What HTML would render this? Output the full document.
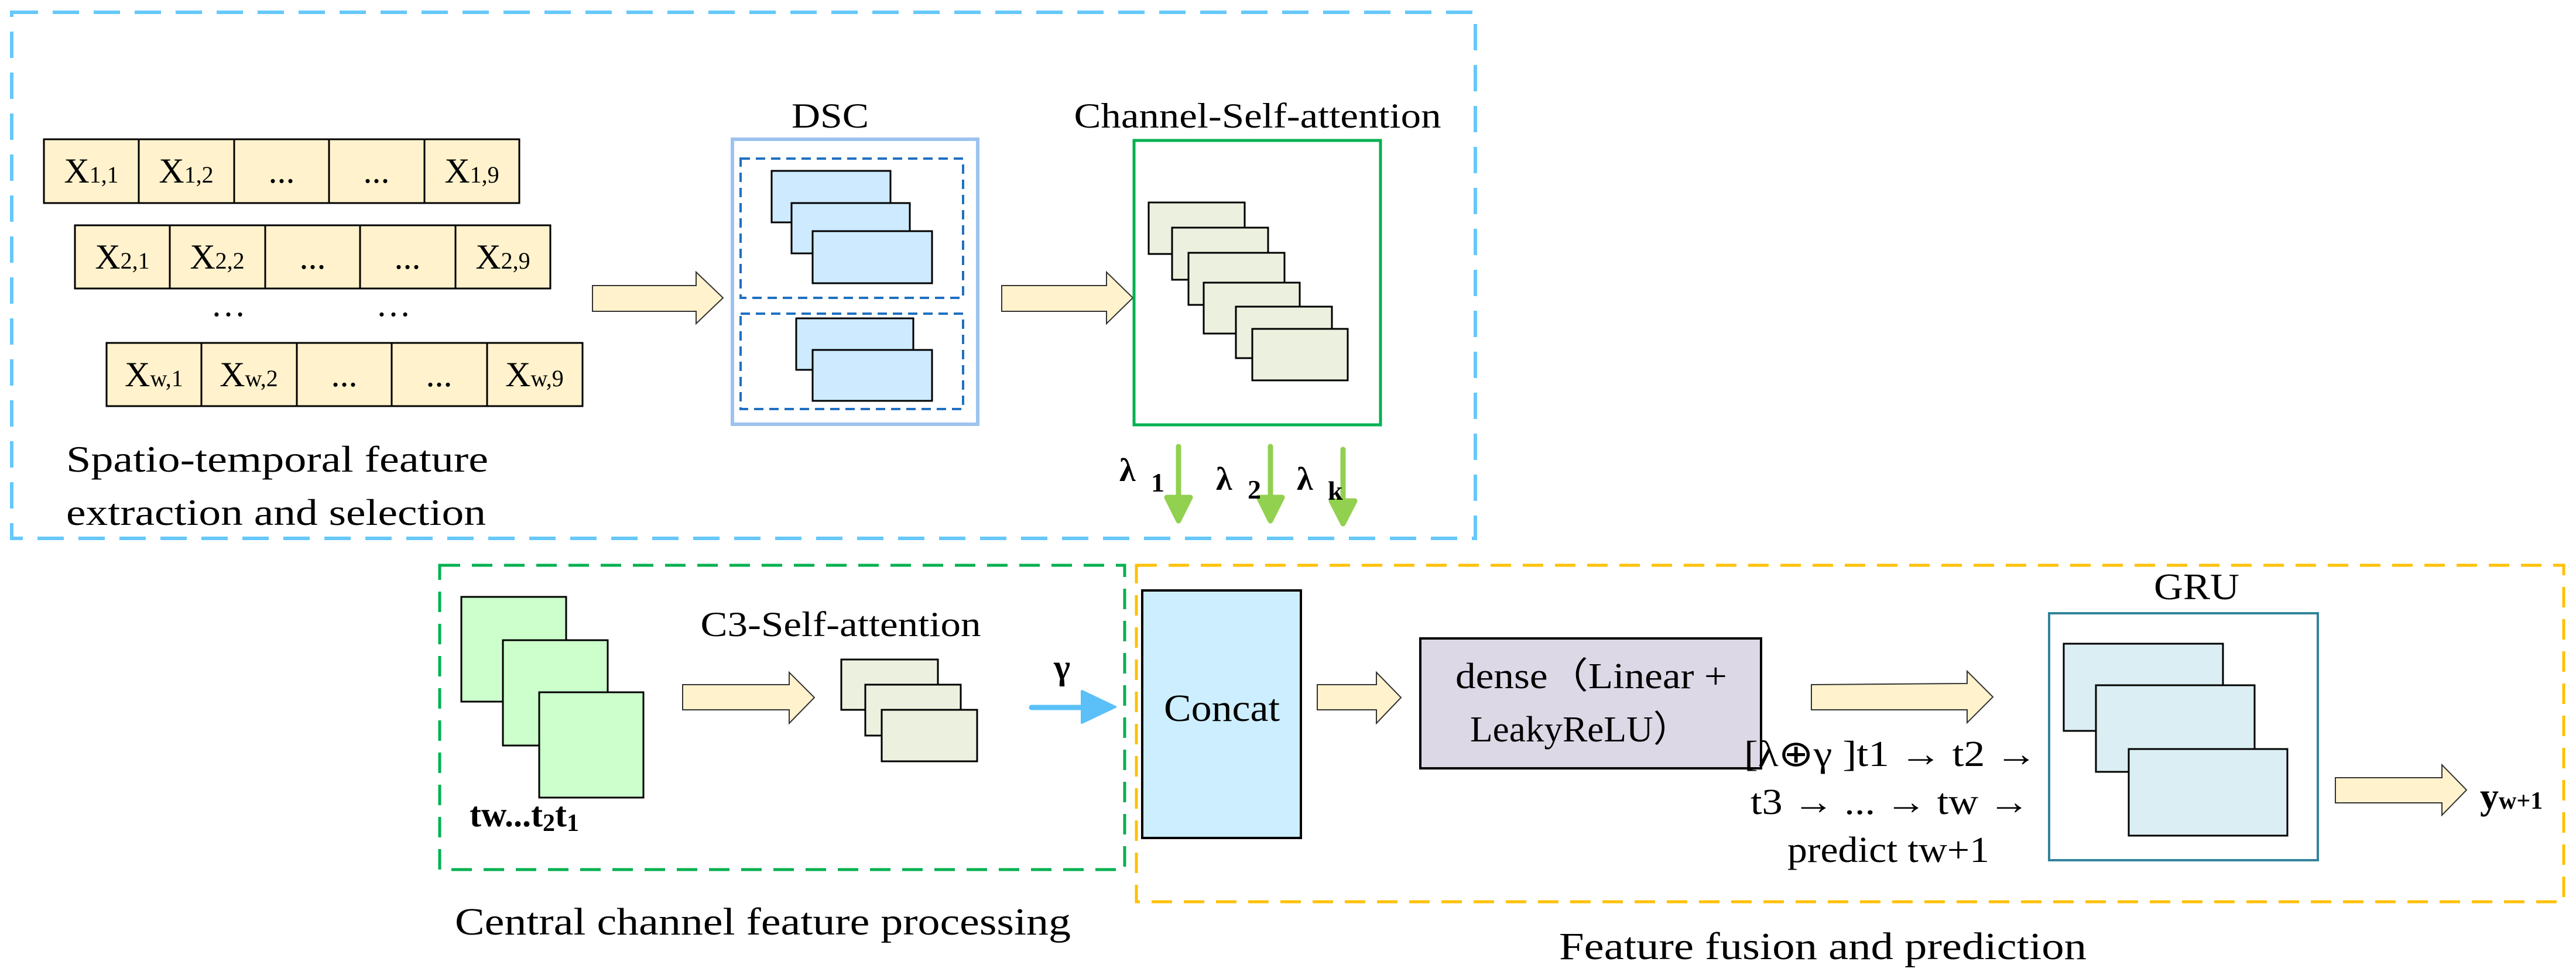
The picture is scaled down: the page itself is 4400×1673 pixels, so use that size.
<!DOCTYPE html>
<html><head><meta charset="utf-8"><style>html,body{margin:0;padding:0;background:#fff}svg{display:block}</style></head>
<body>
<svg xmlns="http://www.w3.org/2000/svg" width="4400" height="1673" viewBox="0 0 4400 1673" font-family="'Liberation Serif', serif">
<rect width="4400" height="1673" fill="#fff"/>
<rect x="20" y="21" width="2500" height="899" fill="none" stroke="#66c8fa" stroke-width="6" stroke-dasharray="45 25"/>
<g stroke="#000" stroke-width="3" fill="#fff2cc">
<rect x="75" y="238" width="812" height="109"/>
<line x1="237" y1="238" x2="237" y2="347"/><line x1="400" y1="238" x2="400" y2="347"/><line x1="562" y1="238" x2="562" y2="347"/><line x1="725" y1="238" x2="725" y2="347"/>
<rect x="128" y="385" width="812" height="108"/>
<line x1="290" y1="385" x2="290" y2="493"/><line x1="453" y1="385" x2="453" y2="493"/><line x1="615" y1="385" x2="615" y2="493"/><line x1="778" y1="385" x2="778" y2="493"/>
<rect x="182" y="586" width="813" height="108"/>
<line x1="344" y1="586" x2="344" y2="694"/><line x1="507" y1="586" x2="507" y2="694"/><line x1="669" y1="586" x2="669" y2="694"/><line x1="832" y1="586" x2="832" y2="694"/>
</g>
<g font-size="60" fill="#000" text-anchor="middle">
<text x="156" y="312">X<tspan font-size="40">1,1</tspan></text>
<text x="318" y="312">X<tspan font-size="40">1,2</tspan></text>
<text x="481" y="312">...</text><text x="643" y="312">...</text>
<text x="806" y="312">X<tspan font-size="40">1,9</tspan></text>
<text x="209" y="459">X<tspan font-size="40">2,1</tspan></text>
<text x="371" y="459">X<tspan font-size="40">2,2</tspan></text>
<text x="534" y="459">...</text><text x="696" y="459">...</text>
<text x="859" y="459">X<tspan font-size="40">2,9</tspan></text>
<text x="390" y="540">…</text><text x="672" y="540">…</text>
<text x="263" y="660">X<tspan font-size="40">w,1</tspan></text>
<text x="425" y="660">X<tspan font-size="40">w,2</tspan></text>
<text x="588" y="660">...</text><text x="750" y="660">...</text>
<text x="913" y="660">X<tspan font-size="40">w,9</tspan></text>
</g>
<g fill="#fff2cc" stroke="#333" stroke-width="2">
<polygon points="1012,488 1189,488 1189,465 1235,509 1189,553 1189,532 1012,532"/>
<polygon points="1711,488 1890,488 1890,465 1935,509 1890,553 1890,532 1711,532"/>
<polygon points="1166,1170 1348,1170 1348,1149 1391,1192 1348,1236 1348,1213 1166,1213"/>
<polygon points="2250,1170 2351,1170 2351,1149 2393,1192 2351,1236 2351,1213 2250,1213"/>
<polygon points="3094,1170 3360,1168 3360,1147 3404,1191 3360,1235 3360,1213 3094,1213"/>
<polygon points="3989,1329 4171,1329 4171,1307 4213,1350 4171,1393 4171,1372 3989,1372"/>
</g>
<rect x="1251" y="238" width="419" height="487" fill="#fff" stroke="#9dc3f0" stroke-width="6"/>
<text x="1418" y="218" font-size="60" text-anchor="middle" textLength="132" lengthAdjust="spacingAndGlyphs">DSC</text>
<g fill="none" stroke="#1f70c1" stroke-width="4" stroke-dasharray="16 10">
<rect x="1265" y="271" width="380" height="238"/>
<rect x="1265" y="536" width="380" height="163"/>
</g>
<g fill="#cdeaff" stroke="#000" stroke-width="3">
<rect x="1318" y="292" width="203" height="88"/>
<rect x="1352" y="347" width="202" height="86"/>
<rect x="1388" y="395" width="204" height="89"/>
<rect x="1360" y="544" width="200" height="88"/>
<rect x="1388" y="598" width="204" height="87"/>
</g>
<rect x="1937" y="240" width="421" height="486" fill="#fff" stroke="#00b050" stroke-width="5"/>
<text x="2148" y="218" font-size="60" text-anchor="middle" textLength="627" lengthAdjust="spacingAndGlyphs">Channel-Self-attention</text>
<g fill="#ebf1de" stroke="#000" stroke-width="3">
<rect x="1962" y="346" width="164" height="88"/>
<rect x="2002" y="389" width="164" height="89"/>
<rect x="2030" y="432" width="164" height="89"/>
<rect x="2056" y="483" width="164" height="87"/>
<rect x="2111" y="524" width="164" height="88"/>
<rect x="2139" y="562" width="163" height="88"/>
</g>
<g stroke="#92d050" stroke-width="9" stroke-linecap="round" fill="#92d050" stroke-linejoin="round">
<line x1="2013" y1="763" x2="2013" y2="852"/><polygon points="1993,850 2033,850 2013,890"/>
<line x1="2170" y1="763" x2="2170" y2="852"/><polygon points="2150,850 2190,850 2170,890"/>
<line x1="2294" y1="768" x2="2294" y2="856"/><polygon points="2274,856 2314,856 2294,895"/>
</g>
<g font-weight="bold" fill="#000">
<text x="1912" y="822" font-size="56">λ</text><text x="1966" y="840" font-size="46">1</text>
<text x="2077" y="837" font-size="56">λ</text><text x="2131" y="852" font-size="46">2</text>
<text x="2215" y="837" font-size="56">λ</text><text x="2268" y="854" font-size="46">k</text>
</g>
<text x="113" y="806" font-size="64" textLength="721" lengthAdjust="spacingAndGlyphs">Spatio-temporal feature</text>
<text x="113" y="897" font-size="64" textLength="717" lengthAdjust="spacingAndGlyphs">extraction and selection</text>
<rect x="751" y="966" width="1170" height="520" fill="none" stroke="#00b050" stroke-width="5" stroke-dasharray="35 20"/>
<g fill="#ccffcc" stroke="#000" stroke-width="3">
<rect x="788" y="1020" width="179" height="179"/>
<rect x="859" y="1094" width="179" height="180"/>
<rect x="921" y="1183" width="178" height="180"/>
</g>
<text x="802" y="1412" font-size="60" font-weight="bold">tw...t<tspan font-size="42" dy="8">2</tspan><tspan dy="-8">t</tspan><tspan font-size="42" dy="8">1</tspan></text>
<text x="1436" y="1087" font-size="60" text-anchor="middle" textLength="479" lengthAdjust="spacingAndGlyphs">C3-Self-attention</text>
<g fill="#ebf1de" stroke="#000" stroke-width="3">
<rect x="1437" y="1127" width="165" height="86"/>
<rect x="1478" y="1170" width="163" height="87"/>
<rect x="1506" y="1213" width="163" height="88"/>
</g>
<text x="1800" y="1160" font-size="60" font-weight="bold">γ</text>
<line x1="1762" y1="1209" x2="1852" y2="1209" stroke="#5bc0f8" stroke-width="9" stroke-linecap="round"/>
<polygon points="1848,1181 1905,1208 1848,1235" fill="#5bc0f8" stroke="#5bc0f8" stroke-width="4" stroke-linejoin="round"/>
<rect x="1941" y="966" width="2438" height="575" fill="none" stroke="#ffc000" stroke-width="5" stroke-dasharray="35 20"/>
<rect x="1951" y="1009" width="271" height="423" fill="#cceeff" stroke="#000" stroke-width="4"/>
<text x="2087" y="1232" font-size="66" text-anchor="middle" textLength="198" lengthAdjust="spacingAndGlyphs">Concat</text>
<rect x="2426" y="1091" width="582" height="222" fill="#dcd8e6" stroke="#000" stroke-width="4"/>
<text x="2486" y="1176" font-size="62" textLength="464" lengthAdjust="spacingAndGlyphs">dense（Linear +</text>
<text x="2511" y="1267" font-size="62" textLength="376" lengthAdjust="spacingAndGlyphs">LeakyReLU）</text>
<g font-size="62">
<text x="2979" y="1309" textLength="501" lengthAdjust="spacingAndGlyphs">[λ⊕γ ]t1 → t2 →</text>
<text x="2990" y="1391" textLength="477" lengthAdjust="spacingAndGlyphs">t3 → ... → tw  →</text>
<text x="3053" y="1473" textLength="345" lengthAdjust="spacingAndGlyphs">predict tw+1</text>
</g>
<rect x="3500" y="1048" width="459" height="422" fill="#fff" stroke="#31849b" stroke-width="4"/>
<text x="3752" y="1024" font-size="64" text-anchor="middle" textLength="146" lengthAdjust="spacingAndGlyphs">GRU</text>
<g fill="#daeef3" stroke="#000" stroke-width="3">
<rect x="3525" y="1100" width="272" height="149"/>
<rect x="3580" y="1171" width="271" height="148"/>
<rect x="3636" y="1280" width="271" height="148"/>
</g>
<text x="4236" y="1382" font-size="64" font-weight="bold">y<tspan font-size="42">w+1</tspan></text>
<text x="777" y="1597" font-size="66" textLength="1052" lengthAdjust="spacingAndGlyphs">Central channel feature processing</text>
<text x="2663" y="1639" font-size="66" textLength="901" lengthAdjust="spacingAndGlyphs">Feature fusion and prediction</text>
</svg>
</body></html>
